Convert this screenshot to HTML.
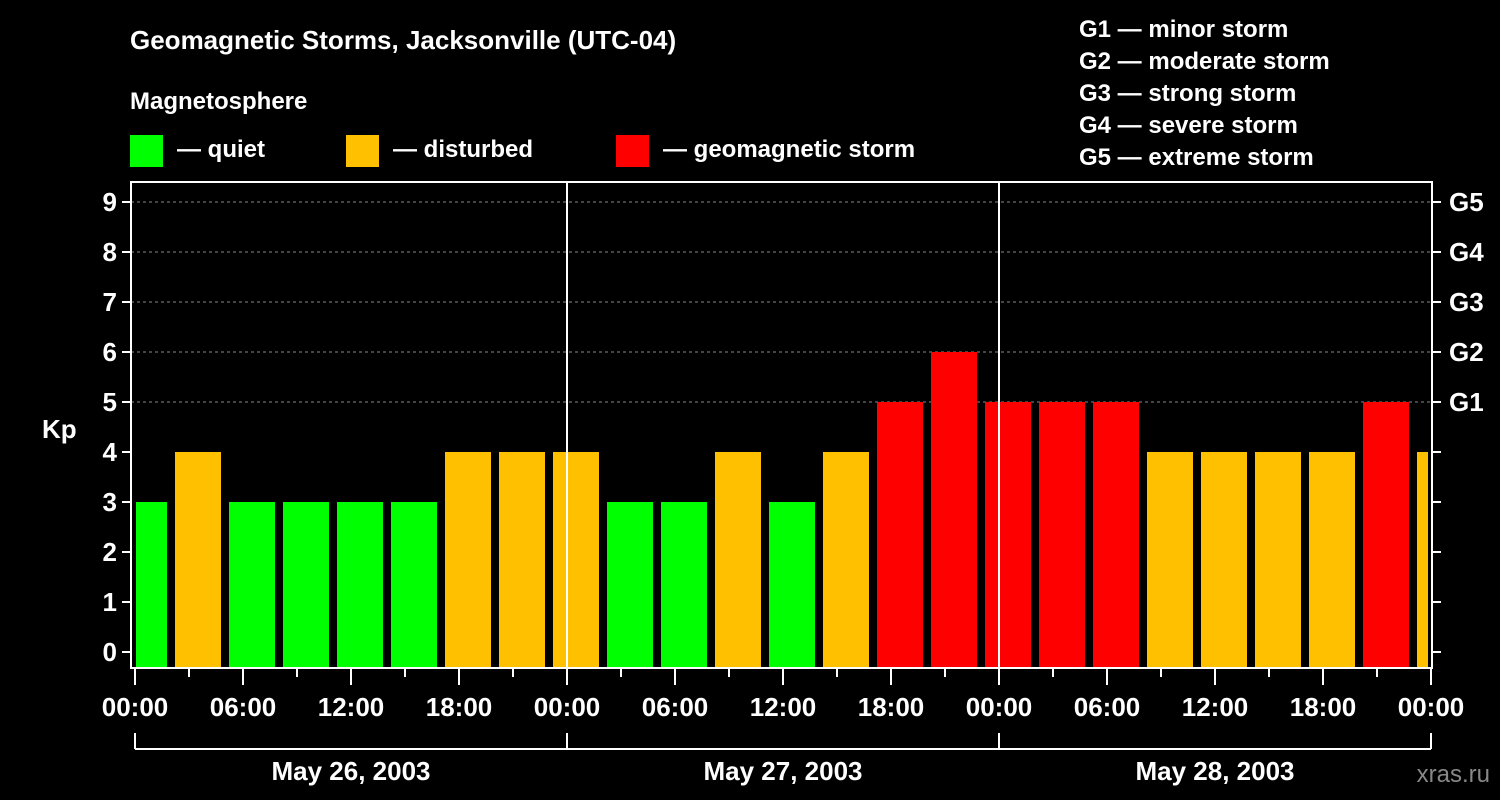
<!DOCTYPE html>
<html><head><meta charset="utf-8"><style>
body{margin:0;background:#000;}
svg{display:block;font-family:"Liberation Sans",sans-serif;font-weight:bold;}
</style></head><body>
<svg id="c" width="1500" height="800">
<rect width="1500" height="800" fill="#000"/>
<text x="130" y="49" fill="#fff" font-size="26">Geomagnetic Storms, Jacksonville (UTC-04)</text>
<text x="130" y="109" fill="#fff" font-size="24">Magnetosphere</text>
<g><rect x="130" y="135" width="33" height="32" fill="#00ff00"/><text x="177" y="157" fill="#fff" font-size="24">— quiet</text></g>
<g><rect x="346" y="135" width="33" height="32" fill="#ffc000"/><text x="393" y="157" fill="#fff" font-size="24">— disturbed</text></g>
<g><rect x="616" y="135" width="33" height="32" fill="#ff0000"/><text x="663" y="157" fill="#fff" font-size="24">— geomagnetic storm</text></g>
<g fill="#fff" font-size="24">
<text x="1079" y="37">G1 — minor storm</text>
<text x="1079" y="69">G2 — moderate storm</text>
<text x="1079" y="101">G3 — strong storm</text>
<text x="1079" y="133">G4 — severe storm</text>
<text x="1079" y="165">G5 — extreme storm</text>
</g>
<text x="42" y="438" fill="#fff" font-size="26">Kp</text>
<text x="1490" y="782" fill="#888" font-size="24" text-anchor="end" font-weight="normal">xras.ru</text>
<g id="grid"></g><g id="bars"></g><g id="axes"></g>
</svg>
<script>
const kpValues=[3,4,3,3,3,3,4,4,4,3,3,4,3,4,5,6,5,5,5,4,4,4,4,5,4];
const dayLabels=["May 26, 2003","May 27, 2003","May 28, 2003"];
const hourLabels=["00:00","06:00","12:00","18:00"];
const gLabels=["G1","G2","G3","G4","G5"];
const NS="http://www.w3.org/2000/svg";
const X0=135,PXH=18,Y0=652,PXK=50,L=131,R=1432,T=182,B=668;
const xs=h=>X0+h*PXH, ys=k=>Y0-k*PXK;
function mk(t,a,p){const e=document.createElementNS(NS,t);for(const k in a)e.setAttribute(k,a[k]);p.appendChild(e);return e;}
const grid=document.getElementById('grid'),bars=document.getElementById('bars'),axes=document.getElementById('axes');
for(let k=5;k<=9;k++){const l=mk('line',{x1:L,x2:R,y1:ys(k),y2:ys(k),stroke:'#888','stroke-dasharray':'3,3','stroke-width':1},grid);

}
kpValues.forEach((v,i)=>{
 let x1=Math.max(xs(-1+3*i)+4,L+5), x2=Math.min(xs(2+3*i)-4,R-4);
 const c=v>=5?'#ff0000':v>=4?'#ffc000':'#00ff00';
 const r=mk('rect',{x:x1,y:ys(v),width:x2-x1,height:B-1-ys(v),fill:c},bars);
 
 
});
for(let d=1;d<3;d++){const l=mk('line',{x1:xs(24*d),x2:xs(24*d),y1:T,y2:B,stroke:'#fff','stroke-width':2},axes);

}
const fr=mk('rect',{x:L,y:T,width:R-L,height:B-T,fill:'none',stroke:'#fff','stroke-width':2},axes);


for(let k=0;k<=9;k++){
 mk('line',{x1:L-9,x2:L,y1:ys(k),y2:ys(k),stroke:'#fff','stroke-width':2},axes);
 mk('line',{x1:R,x2:R+9,y1:ys(k),y2:ys(k),stroke:'#fff','stroke-width':2},axes);
 const t=mk('text',{x:L-14,y:ys(k)+9,fill:'#fff','font-size':26,'text-anchor':'end'},axes);t.textContent=k;
 
 
}
gLabels.forEach((g,i)=>{const t=mk('text',{x:R+17,y:ys(5+i)+9,fill:'#fff','font-size':26},axes);t.textContent=g;

});
for(let h=0;h<=72;h+=3){
 const major=h%6==0;
 mk('line',{x1:xs(h),x2:xs(h),y1:B,y2:B+(major?17:9),stroke:'#fff','stroke-width':2},axes);
 if(major){const t=mk('text',{x:xs(h),y:B+48,fill:'#fff','font-size':26,'text-anchor':'middle'},axes);t.textContent=hourLabels[(h/6)%4];
 
 }
}
mk('line',{x1:xs(0),x2:xs(72),y1:749,y2:749,stroke:'#fff','stroke-width':2},axes);
for(let d=0;d<=3;d++)mk('line',{x1:xs(24*d),x2:xs(24*d),y1:733,y2:749,stroke:'#fff','stroke-width':2},axes);
dayLabels.forEach((s,d)=>{const t=mk('text',{x:xs(24*d+12),y:780,fill:'#fff','font-size':26,'text-anchor':'middle'},axes);t.textContent=s;

});
</script>
</body></html>
